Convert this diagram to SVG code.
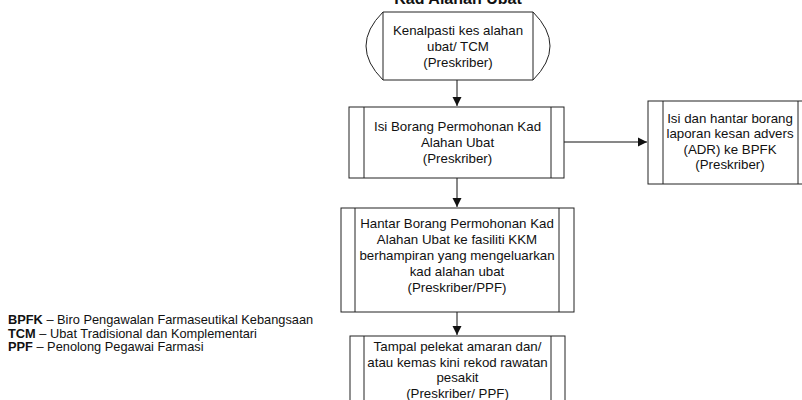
<svg xmlns="http://www.w3.org/2000/svg" width="802" height="400" viewBox="0 0 802 400">
<style>
.s{fill:#fff;stroke:#222;stroke-width:1}
.l{fill:none;stroke:#222;stroke-width:1}
.t{font-family:"Liberation Sans",Arial,sans-serif;font-size:13.3px;fill:#111;text-anchor:middle}
.g{font-family:"Liberation Sans",Arial,sans-serif;font-size:12.8px;fill:#111}
.b{font-weight:bold}
.c{fill:none;stroke:#111;stroke-width:1}
</style>
<defs>
<marker id="ah" markerWidth="10" markerHeight="10" refX="9" refY="5" orient="auto" markerUnits="userSpaceOnUse">
<path d="M0,0.5 L9,5 L0,9.5 Z" fill="#111"/>
</marker>
</defs>
<rect width="802" height="400" fill="#fff"/>
<text x="458" y="4" class="t b" style="font-size:16px">Kad Alahan Ubat</text>
<g id="connectors">
<line class="c" x1="457" y1="80" x2="457" y2="106" marker-end="url(#ah)"/>
<line class="c" x1="457" y1="178" x2="457" y2="207" marker-end="url(#ah)"/>
<line class="c" x1="457" y1="312" x2="457" y2="335" marker-end="url(#ah)"/>
<line class="c" x1="564" y1="142" x2="647" y2="142" marker-end="url(#ah)"/>
</g>
<g id="n1">
<path class="s" d="M383,12 H533 Q567,46 533,80 H383 Q349,46 383,12 Z"/>
<line class="l" x1="383" y1="12" x2="383" y2="80"/>
<line class="l" x1="533" y1="12" x2="533" y2="80"/>
<text class="t" x="458" y="35">Kenalpasti kes alahan</text>
<text class="t" x="458" y="51">ubat/ TCM</text>
<text class="t" x="458" y="67">(Preskriber)</text>
</g>
<g id="n2">
<rect class="s" x="349" y="107" width="215" height="71"/>
<line class="l" x1="364" y1="107" x2="364" y2="178"/>
<line class="l" x1="551" y1="107" x2="551" y2="178"/>
<text class="t" x="457.5" y="131">Isi Borang Permohonan Kad</text>
<text class="t" x="457.5" y="147">Alahan Ubat</text>
<text class="t" x="457.5" y="163">(Preskriber)</text>
</g>
<g id="n3">
<rect class="s" x="341" y="208" width="233" height="104"/>
<line class="l" x1="355" y1="208" x2="355" y2="312"/>
<line class="l" x1="559" y1="208" x2="559" y2="312"/>
<text class="t" x="457" y="228">Hantar Borang Permohonan Kad</text>
<text class="t" x="457" y="244">Alahan Ubat ke fasiliti KKM</text>
<text class="t" x="457" y="260">berhampiran yang mengeluarkan</text>
<text class="t" x="457" y="276">kad alahan ubat</text>
<text class="t" x="457" y="292">(Preskriber/PPF)</text>
</g>
<g id="n4">
<rect class="s" x="350" y="336" width="215" height="80"/>
<line class="l" x1="364" y1="336" x2="364" y2="416"/>
<line class="l" x1="551" y1="336" x2="551" y2="416"/>
<text class="t" x="457.5" y="351">Tampal pelekat amaran dan/</text>
<text class="t" x="457.5" y="367">atau kemas kini rekod rawatan</text>
<text class="t" x="457.5" y="382">pesakit</text>
<text class="t" x="457.5" y="398">(Preskriber/ PPF)</text>
</g>
<g id="n5">
<rect class="s" x="648" y="101" width="165" height="83"/>
<line class="l" x1="663" y1="101" x2="663" y2="184"/>
<line class="l" x1="798" y1="101" x2="798" y2="184"/>
<text class="t" x="730" y="123">Isi dan hantar borang</text>
<text class="t" x="730" y="138">laporan kesan advers</text>
<text class="t" x="730" y="154">(ADR) ke BPFK</text>
<text class="t" x="730" y="169">(Preskriber)</text>
</g>
<g id="legend">
<text class="g" x="8" y="324"><tspan class="b">BPFK</tspan> – Biro Pengawalan Farmaseutikal Kebangsaan</text>
<text class="g" x="8" y="337.5"><tspan class="b">TCM</tspan> – Ubat Tradisional dan Komplementari</text>
<text class="g" x="8" y="351"><tspan class="b">PPF</tspan> – Penolong Pegawai Farmasi</text>
</g>
</svg>
